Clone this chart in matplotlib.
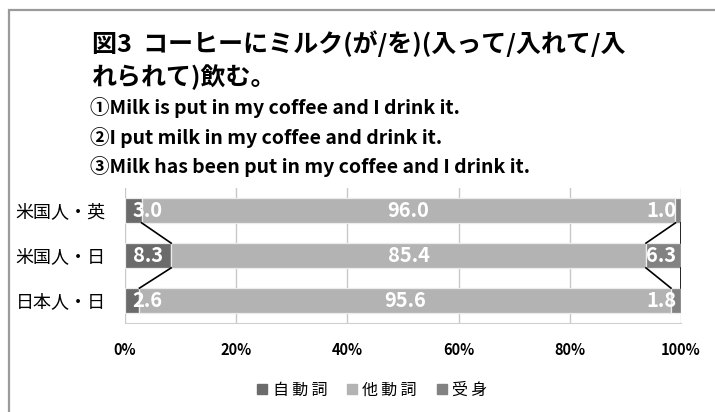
import matplotlib
matplotlib.use("Agg")
import matplotlib.pyplot as plt
from matplotlib.patches import Rectangle
from matplotlib.lines import Line2D

plt.rcParams['font.family'] = ['Noto Sans CJK JP', 'DejaVu Sans']

categories = ["米国人・英", "米国人・日", "日本人・日"]
series_names = ["自動詞", "他動詞", "受身"]
jidoushi = [3.0, 8.3, 2.6]
tadoushi = [96.0, 85.4, 95.6]
ukemi = [1.0, 6.3, 1.8]
xticks = [0, 20, 40, 60, 80, 100]
xtick_labels = ["0%", "20%", "40%", "60%", "80%", "100%"]
colors = ["#6b6b6b", "#b3b3b3", "#828282"]

title_lines = ["図3  コーヒーにミルク(が/を)(入って/入れて/入",
               "れられて)飲む。"]
sub_lines = ["①Milk is put in my coffee and I drink it.",
             "②I put milk in my coffee and drink it.",
             "③Milk has been put in my coffee and I drink it."]

fig = plt.figure(figsize=(7.15, 4.12), dpi=100)
fig.patches.append(Rectangle((9/715, -1), 2.0, 2 - 10/412, transform=fig.transFigure,
                             fill=False, edgecolor="#9a9a9a", linewidth=1.6))

ax = fig.add_axes([125/715, 1 - 323/412, 556/715, 135/412])
y = list(range(len(categories)))
h = 0.55
series = [jidoushi, tadoushi, ukemi]
lefts = [0.0] * len(categories)
for name, vals, c in zip(series_names, series, colors):
    ax.barh(y, vals, left=lefts, height=h, color=c, edgecolor="#ececec",
            linewidth=0.9, label=name, zorder=3)
    for yi, v, l in zip(y, vals, lefts):
        cx = min(max(l + v / 2, 4.0), 96.4)
        ax.text(cx, yi, f"{v:.1f}", ha="center", va="center", color="white",
                fontsize=14.5, fontweight="bold", zorder=5)
    lefts = [l + v for l, v in zip(lefts, vals)]

# series lines between bars
cum1 = jidoushi
cum2 = [a + b for a, b in zip(jidoushi, tadoushi)]
cum3 = [a + b + c for a, b, c in zip(jidoushi, tadoushi, ukemi)]
for cum in (cum1, cum2, cum3):
    for i in range(len(categories) - 1):
        ax.plot([cum[i], cum[i + 1]], [y[i] + h / 2, y[i + 1] - h / 2],
                color="black", linewidth=1.2, zorder=4)

for xv in xticks:
    ax.axvline(xv, color="#c8c8c8", linewidth=1, zorder=1)

ax.set_xlim(0, 100)
ax.set_ylim(2.5, -0.5)
ax.set_xticks(xticks)
ax.set_xticklabels(xtick_labels, fontsize=10.5, fontweight="bold")
ax.set_yticks(y)
ax.set_yticklabels(categories, fontsize=13)
ax.tick_params(axis="both", length=0)
ax.tick_params(axis="x", pad=14)
ax.tick_params(axis="y", pad=14)
for s in ax.spines.values():
    s.set_visible(False)
ax.spines["bottom"].set_visible(True)
ax.spines["bottom"].set_color("#d0d0d0")

handles = [Line2D([0], [0], marker="s", linestyle="none", markersize=6.5,
                  markerfacecolor=c, markeredgecolor=c) for c in colors]
legend_labels = ["\u2009".join(list(n)) for n in series_names]
fig.legend(handles, legend_labels, loc="center", bbox_to_anchor=(372/715, 1 - 390/412),
           ncol=3, frameon=False, fontsize=11.5, handletextpad=0.3, columnspacing=1.2,
           handlelength=0.7)

fig.text(92/715, 1 - 44/412, title_lines[0], fontsize=18, fontweight="bold", va="center")
fig.text(92/715, 1 - 77/412, title_lines[1], fontsize=18, fontweight="bold", va="center")
for i, s in enumerate(sub_lines):
    fig.text(90/715, 1 - (108 + i * 29) / 412, s, fontsize=14, fontweight="bold",
             va="center")

fig.savefig("out.png", dpi=100, facecolor="white")
